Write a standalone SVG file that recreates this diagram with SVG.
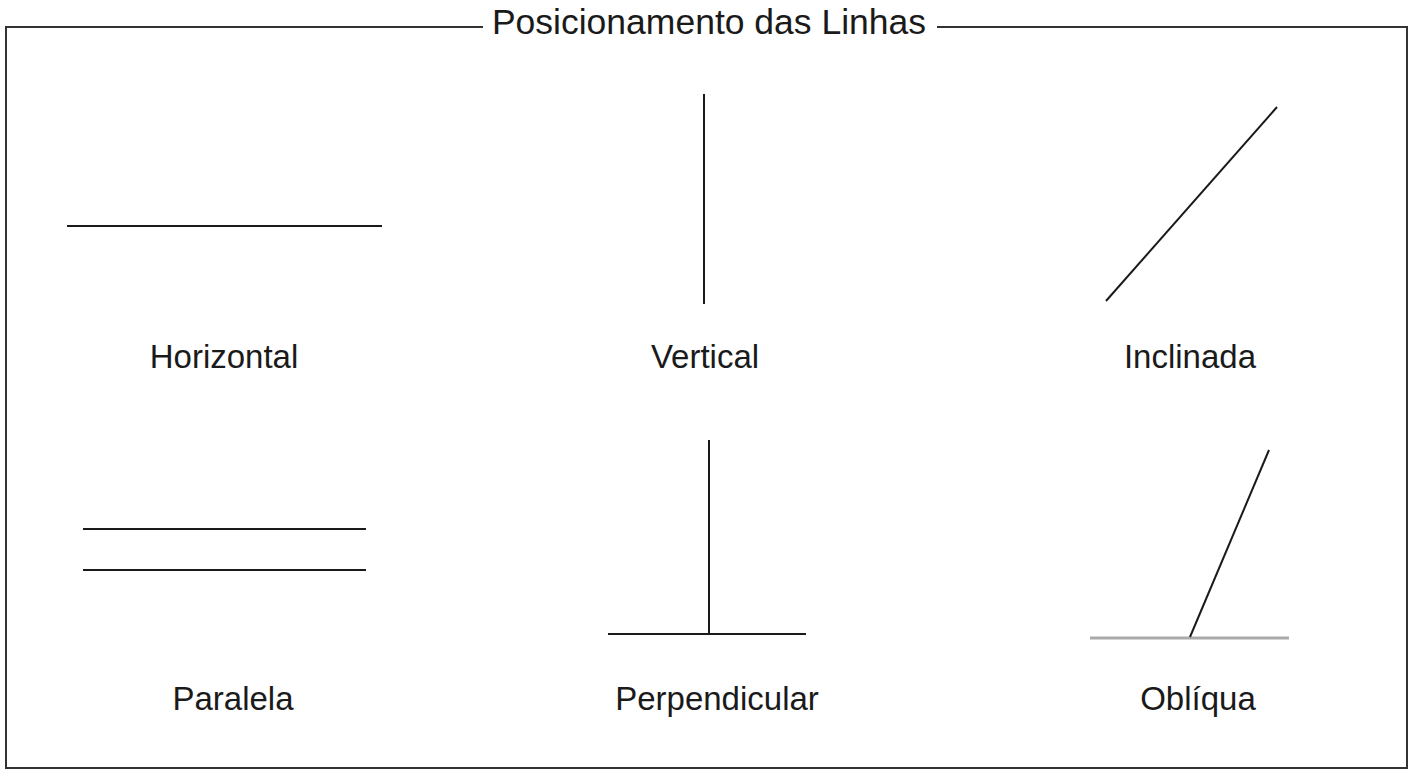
<svg xmlns="http://www.w3.org/2000/svg" width="1409" height="771" viewBox="0 0 1409 771">
<style>
.ln{stroke:#1a1a1a;stroke-width:2;fill:none}
.gr{stroke:#aaaaaa;stroke-width:3;fill:none}
.lbl{font-family:"Liberation Sans",Arial,sans-serif;font-size:33px;fill:#1a1a1a;text-anchor:middle}
</style>
<rect width="1409" height="771" fill="#ffffff"/>
<g id="frame">
<rect x="6" y="27" width="1401" height="741" fill="none" stroke="#333333" stroke-width="2"/>
<rect x="483" y="10" width="454" height="30" fill="#ffffff"/>
<text x="709" y="34" font-family="'Liberation Sans',Arial,sans-serif" font-size="35.5" fill="#1a1a1a" text-anchor="middle">Posicionamento das Linhas</text>
</g>
<g id="connectors">
<line id="l-horizontal" class="ln" x1="67" y1="226" x2="382" y2="226"/>
<line id="l-vertical" class="ln" x1="704" y1="94" x2="704" y2="304"/>
<line id="l-inclinada" class="ln" x1="1106" y1="301" x2="1277" y2="107"/>
<line class="ln" x1="83" y1="529" x2="366" y2="529"/>
<line class="ln" x1="83" y1="570" x2="366" y2="570"/>
<line class="ln" x1="709" y1="440" x2="709" y2="634"/>
<line class="ln" x1="608" y1="634" x2="806" y2="634"/>
<line class="gr" x1="1090" y1="638" x2="1289" y2="638"/>
<line class="ln" x1="1190" y1="637" x2="1269" y2="450"/>
</g>
<g id="n-horizontal"><text class="lbl" x="224" y="368">Horizontal</text></g>
<g id="n-vertical"><text class="lbl" x="705" y="368">Vertical</text></g>
<g id="n-inclinada"><text class="lbl" x="1190" y="368">Inclinada</text></g>
<g id="n-paralela"><text class="lbl" x="233" y="710">Paralela</text></g>
<g id="n-perpendicular"><text class="lbl" x="717" y="710">Perpendicular</text></g>
<g id="n-obliqua"><text class="lbl" x="1198" y="710">Oblíqua</text></g>
</svg>
